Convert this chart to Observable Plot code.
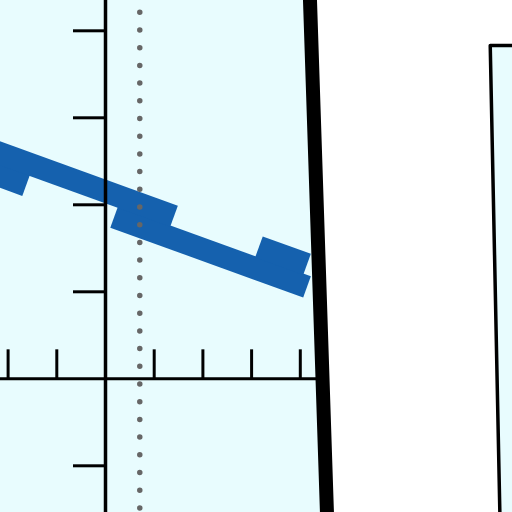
<!DOCTYPE html>
<html>
<head>
<meta charset="utf-8">
<script src="https://cdn.jsdelivr.net/npm/d3@7"></script>
<script src="https://cdn.jsdelivr.net/npm/@observablehq/plot@0.6"></script>
<style>
  body { margin: 0; background: white; }
  #chart svg { display: block; }
</style>
</head>
<body>
<div id="chart"></div>
<script>
// tick positions on the two axes
const xTicks = [-2, -1, 1, 2, 3, 4]
const yTicks = [-1, 1, 2, 3, 4]

// the blue curve is two parallel strokes, each broken once
const upperLine = [
  {x1: -2.5, y1: 2.660, x2: 1.407, y2: 1.868},
  {x1: 3.150, y1: 1.515, x2: 4.138, y2: 1.315},
]
const lowerLine = [
  {x1: -2.5, y1: 2.401, x2: -1.630, y2: 2.224},
  {x1: 0.177, y1: 1.859, x2: 4.138, y2: 1.056},
]

// dotted guide
const guideX = [0.704]

// slanted border of the plot panel
const panelEdge = [
  {x: 4.196, y: 4.4},
  {x: 4.551, y: -1.6},
]

// box on the right
const boxEdge = [
  {x: 9.0, y: 3.831},
  {x: 7.90, y: 3.831},
  {x: 8.10, y: -1.6},
]

const cyan = '#e8fcfe'
const blue = '#1561ae'

let chart = Plot.plot({
  width: 512,
  height: 512,
  margin: 0,
  x: {domain: [-105 / 48.7, 407 / 48.7], axis: null},
  y: {domain: [-133.7 / 87, 378.3 / 87], axis: null},
  style: {background: 'white'},
  marks: [
    // panel fill, left of the slanted edge
    Plot.areaX(panelEdge, {y: 'y', x1: -2.5, x2: 'x', fill: cyan, clip: true}),
    // box fill
    Plot.areaX(boxEdge.slice(1), {y: 'y', x1: 'x', x2: 9.0, fill: cyan, clip: true}),
    Plot.line(boxEdge, {x: 'x', y: 'y', stroke: 'black', strokeWidth: 3.5, clip: true}),

    // blue curve
    Plot.link(lowerLine, {x1: 'x1', y1: 'y1', x2: 'x2', y2: 'y2', stroke: blue, strokeWidth: 22.5, strokeLinecap: 'butt', clip: true}),
    Plot.link(upperLine, {x1: 'x1', y1: 'y1', x2: 'x2', y2: 'y2', stroke: blue, strokeWidth: 22.5, strokeLinecap: 'butt', clip: true}),

    // axes
    Plot.ruleY([0], {x1: -2.5, x2: 4.4, stroke: 'black', strokeWidth: 3, clip: true}),
    Plot.ruleX(xTicks, {y1: 0, y2: 0.333, stroke: 'black', strokeWidth: 3, clip: true}),
    Plot.ruleX([0], {stroke: 'black', strokeWidth: 3.5, clip: true}),
    Plot.ruleY(yTicks, {x1: -0.657, x2: 0, stroke: 'black', strokeWidth: 3, clip: true}),

    // dotted guide
    Plot.ruleX(guideX, {
      stroke: '#666666',
      strokeWidth: 5.5,
      strokeLinecap: 'round',
      strokeDasharray: '0,17.7',
      strokeDashoffset: 5.4,
      clip: true,
    }),

    // thick slanted edge
    Plot.line(panelEdge, {x: 'x', y: 'y', stroke: 'black', strokeWidth: 14, clip: true}),
  ],
})
d3.select('#chart').append(() => chart)
</script>
</body>
</html>
